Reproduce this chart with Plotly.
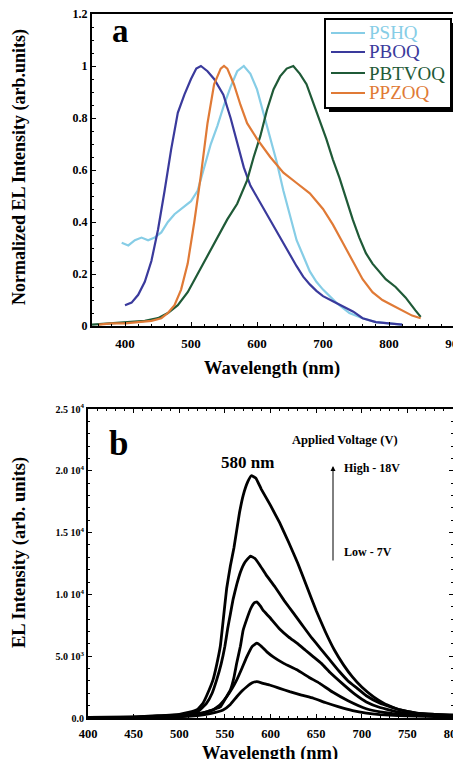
import plotly.graph_objects as go

# ---------- Panel a : normalized EL spectra ----------
pshq_wl = [395, 405, 415, 425, 435, 445, 455, 465, 475, 490, 500, 510, 520, 530, 540, 550, 560, 570, 580,
           590, 600, 610, 620, 630, 640, 650, 660, 670, 680, 690, 700, 720, 740, 760, 780, 800, 820]
pshq_v = [0.32, 0.31, 0.33, 0.34, 0.33, 0.34, 0.36, 0.40, 0.43, 0.46, 0.48, 0.52, 0.61, 0.70, 0.77, 0.85, 0.92, 0.98, 1.0,
          0.97, 0.91, 0.82, 0.73, 0.63, 0.52, 0.42, 0.33, 0.27, 0.21, 0.17, 0.14, 0.09, 0.05, 0.03, 0.015, 0.01, 0.005]

pboq_wl = [400, 410, 420, 430, 440, 450, 460, 470, 480, 490, 500, 508, 515, 525, 535, 549, 560, 570, 580, 590,
           600, 610, 620, 630, 640, 650, 660, 670, 680, 690, 700, 715, 730, 746, 760, 780, 800, 820]
pboq_v = [0.08, 0.09, 0.12, 0.17, 0.25, 0.37, 0.52, 0.68, 0.82, 0.89, 0.95, 0.99, 1.0, 0.98, 0.95, 0.89, 0.80, 0.71, 0.61, 0.54,
          0.495, 0.45, 0.405, 0.36, 0.315, 0.27, 0.23, 0.19, 0.16, 0.135, 0.115, 0.095, 0.075, 0.055, 0.03, 0.015, 0.01, 0.005]

pbtvoq_wl = [350, 380, 410, 430, 450, 465, 480, 495, 510, 525, 540, 555, 570, 585, 595, 605, 615, 625, 635, 645, 655,
             665, 675, 685, 695, 705, 715, 725, 735, 745, 755, 765, 775, 785, 795, 810, 825, 840, 848]
pbtvoq_v = [0.005, 0.01, 0.015, 0.02, 0.03, 0.05, 0.08, 0.13, 0.2, 0.27, 0.34, 0.41, 0.47, 0.56, 0.65, 0.73, 0.83, 0.91, 0.96, 0.99, 1.0,
            0.97, 0.93, 0.86, 0.79, 0.72, 0.64, 0.57, 0.49, 0.41, 0.34, 0.28, 0.24, 0.21, 0.18, 0.15, 0.11, 0.06, 0.035]

ppzoq_wl = [360, 380, 400, 420, 440, 455, 465, 475, 485, 495, 505, 515, 525, 535, 545, 550, 555, 565, 575, 585,
            600, 620, 640, 660, 680, 700, 715, 730, 745, 760, 775, 790, 805, 820, 835, 848]
ppzoq_v = [0.005, 0.01, 0.01, 0.015, 0.02, 0.03, 0.05, 0.08, 0.14, 0.24, 0.40, 0.58, 0.78, 0.93, 0.99, 1.0, 0.99, 0.93, 0.85, 0.78,
           0.72, 0.65, 0.59, 0.55, 0.51, 0.45, 0.39, 0.32, 0.25, 0.18, 0.13, 0.10, 0.08, 0.06, 0.04, 0.03]

names_a = ["PSHQ", "PBOQ", "PBTVOQ", "PPZOQ"]
colors_a = ["#86cde6", "#3a3a9c", "#1f5a37", "#e07a36"]
series_a = [(pshq_wl, pshq_v), (pboq_wl, pboq_v), (pbtvoq_wl, pbtvoq_v), (ppzoq_wl, ppzoq_v)]

# ---------- Panel b : EL intensity at several applied voltages ----------
c1_wl = [400, 450, 500, 510, 520, 526, 530, 537, 541, 545, 548, 552, 556, 560, 566, 570, 575, 579, 584, 590, 600,
         610, 620, 630, 640, 650, 660, 670, 680, 690, 700, 713, 725, 742, 760, 780, 800]
c1_i = [50, 80, 300, 450, 700, 1200, 1800, 3080, 4300, 5800, 7800, 10500, 12300, 13800, 16600, 18000, 19100, 19600,
        19400, 18500, 17200, 15800, 14200, 12500, 10600, 8700, 7000, 5500, 4300, 3300, 2500, 1700, 1150, 650, 400, 300, 250]

c2_wl = [400, 450, 500, 520, 530, 536, 541, 546, 550, 553, 556, 559, 563, 567, 572, 578, 583, 588, 595, 605, 615,
         625, 635, 645, 655, 665, 675, 685, 695, 705, 720, 740, 760, 780, 800]
c2_i = [40, 70, 250, 500, 1200, 2000, 3080, 4400, 5800, 7200, 8400, 9600, 10800, 11800, 12600, 13100, 12900, 12400,
        11600, 10600, 9500, 8500, 7500, 6500, 5600, 4700, 3800, 3000, 2400, 1800, 1200, 700, 400, 300, 200]

c3_wl = [400, 450, 500, 520, 530, 538, 545, 550, 556, 560, 563, 567, 570, 574, 578, 582, 585, 589, 592, 599, 610,
         620, 629, 638, 647, 656, 665, 680, 692, 705, 720, 742, 760, 780, 800]
c3_i = [30, 60, 200, 350, 500, 700, 900, 1500, 2270, 3300, 4450, 5800, 7100, 8000, 8800, 9300, 9400, 9050, 8700,
        8150, 7200, 6550, 6050, 5500, 4950, 4400, 3700, 2700, 1950, 1300, 850, 450, 300, 200, 150]

c4_wl = [400, 450, 500, 520, 530, 537, 545, 552, 558, 563, 568, 574, 580, 585, 590, 596, 603, 615, 629, 642, 654,
         668, 685, 705, 720, 740, 760, 780, 800]
c4_i = [20, 50, 150, 300, 500, 650, 1100, 1720, 2400, 3080, 3900, 4950, 5800, 6050, 5800, 5350, 4950, 4400, 3900,
        3300, 2800, 2100, 1400, 750, 500, 320, 220, 160, 120]

c5_wl = [400, 450, 500, 520, 535, 548, 556, 563, 569, 574, 580, 585, 592, 599, 610, 621, 634, 647, 660, 675, 690,
         705, 720, 740, 760, 780, 800]
c5_i = [10, 40, 100, 200, 380, 650, 1100, 1720, 2200, 2530, 2850, 2940, 2800, 2670, 2400, 2130, 1850, 1600, 1250,
        900, 600, 400, 280, 200, 150, 120, 100]

series_b = [(c1_wl, c1_i), (c2_wl, c2_i), (c3_wl, c3_i), (c4_wl, c4_i), (c5_wl, c5_i)]

ya_ticks = [0, 0.2, 0.4, 0.6, 0.8, 1.0, 1.2]
ya_text = ["0", "0.2", "0.4", "0.6", "0.8", "1", "1.2"]
xa_ticks = [400, 500, 600, 700, 800, 900]
yb_ticks = [0, 5000, 10000, 15000, 20000, 25000]
yb_text = ["0.0", "5.0 10<sup>3</sup>", "1.0 10<sup>4</sup>", "1.5 10<sup>4</sup>", "2.0 10<sup>4</sup>", "2.5 10<sup>4</sup>"]
xb_ticks = [400, 450, 500, 550, 600, 650, 700, 750, 800]

# page is drawn with an 8px body margin, so the figure is offset by 8px
OFF = 8
W, H = 461 - OFF, 759 - OFF
def fx(px):
    return (px - OFF) / W
def fy(py):
    return 1 - (py - OFF) / H

SERIF = "Liberation Serif"

fig = go.Figure()
for name, (wl, v), col in zip(names_a, series_a, colors_a):
    fig.add_trace(go.Scatter(x=wl, y=v, mode="lines", line=dict(color=col, width=2.2),
                             xaxis="x", yaxis="y", name=name, showlegend=False))
for wl, inten in series_b:
    fig.add_trace(go.Scatter(x=wl, y=inten, mode="lines", line=dict(color="black", width=2.8, shape="spline", smoothing=0.3),
                             xaxis="x2", yaxis="y2", showlegend=False))

def tf(size):
    return dict(family=SERIF, size=size, color="black", weight="bold")

common = dict(showgrid=False, zeroline=False, showline=True, linecolor="black", linewidth=2,
              ticks="inside", tickcolor="black", ticklen=4, tickwidth=1, automargin=False,
              ticklabeloverflow="allow")

fig.update_layout(
    width=W, height=H, margin=dict(l=0, r=0, t=0, b=0),
    paper_bgcolor="white", plot_bgcolor="white", showlegend=False,
    xaxis=dict(domain=[fx(92), fx(455)], range=[350, 900], tickvals=xa_ticks, mirror=True, tickfont=tf(13),
               ticklabelstandoff=4,
               minor=dict(ticks="inside", dtick=20, ticklen=2, tickcolor="black"), anchor="y", **common),
    yaxis=dict(domain=[fy(326), fy(14)], range=[0, 1.2], tickvals=ya_ticks, ticktext=ya_text, mirror=True,
               tickfont=tf(12), minor=dict(ticks="inside", dtick=0.05, ticklen=2, tickcolor="black"),
               anchor="x", **common),
    xaxis2=dict(domain=[fx(88), fx(453)], range=[400, 800], tickvals=xb_ticks, mirror="allticks", tickfont=tf(12.5),
                ticklabelstandoff=3,
                minor=dict(ticks="inside", dtick=10, ticklen=2, tickcolor="black"), anchor="y2", **common),
    yaxis2=dict(domain=[fy(718), fy(409)], range=[0, 25000], tickvals=yb_ticks, ticktext=yb_text,
                mirror="allticks", tickfont=tf(10), minor=dict(ticks="inside", dtick=1000, ticklen=2, tickcolor="black"),
                anchor="x2", **common),
)

# ---- legend box (drawn) for panel a ----
fig.add_shape(type="rect", xref="paper", yref="paper", x0=fx(329), x1=fx(455), y0=fy(112), y1=fy(23),
              fillcolor="black", line=dict(width=0), layer="above")
fig.add_shape(type="rect", xref="paper", yref="paper", x0=fx(325), x1=fx(451), y0=fy(108), y1=fy(19),
              fillcolor="white", line=dict(color="black", width=2), layer="above")
leg_y = [33, 52, 73, 93]
for name, col, py in zip(names_a, colors_a, leg_y):
    fig.add_shape(type="line", xref="paper", yref="paper", x0=fx(331), x1=fx(365), y0=fy(py), y1=fy(py),
                  line=dict(color=col, width=2.2), layer="above")
    fig.add_annotation(text=name, x=fx(367), y=fy(py), xref="paper", yref="paper", xanchor="left", yanchor="middle",
                       showarrow=False, font=dict(family=SERIF, size=19, color=col))

ann = [
    dict(text="a", x=fx(120), y=fy(31), xref="paper", yref="paper", font=tf(33)),
    dict(text="b", x=fx(118), y=fy(443), xref="paper", yref="paper", font=tf(35)),
    dict(text="Normalized EL Intensity (arb.units)", x=fx(19), y=fy(167), xref="paper", yref="paper",
         textangle=-90, font=tf(18)),
    dict(text="Wavelength (nm)", x=fx(272), y=fy(368), xref="paper", yref="paper", font=tf(18.5)),
    dict(text="EL Intensity (arb. units)", x=fx(19), y=fy(553), xref="paper", yref="paper",
         textangle=-90, font=tf(18.5)),
    dict(text="Wavelength (nm)", x=fx(270), y=fy(753), xref="paper", yref="paper", font=tf(18.5)),
    dict(text="Applied Voltage (V)", x=fx(345), y=fy(440), xref="paper", yref="paper", font=tf(12.5)),
    dict(text="580 nm", x=fx(247), y=fy(462), xref="paper", yref="paper", font=tf(17)),
    dict(text="High - 18V", x=fx(372), y=fy(468), xref="paper", yref="paper", font=tf(12)),
    dict(text="Low - 7V", x=fx(368), y=fy(552), xref="paper", yref="paper", font=tf(12)),
]
for a in ann:
    fig.add_annotation(showarrow=False, xanchor="center", yanchor="middle", **a)

# arrow from Low to High
fig.add_annotation(text="", x=fx(333), y=fy(466), xref="paper", yref="paper",
                   ax=0, ay=96, axref="pixel", ayref="pixel",
                   showarrow=True, arrowhead=2, arrowsize=1, arrowwidth=1, arrowcolor="black")

fig.write_html("out.html")
